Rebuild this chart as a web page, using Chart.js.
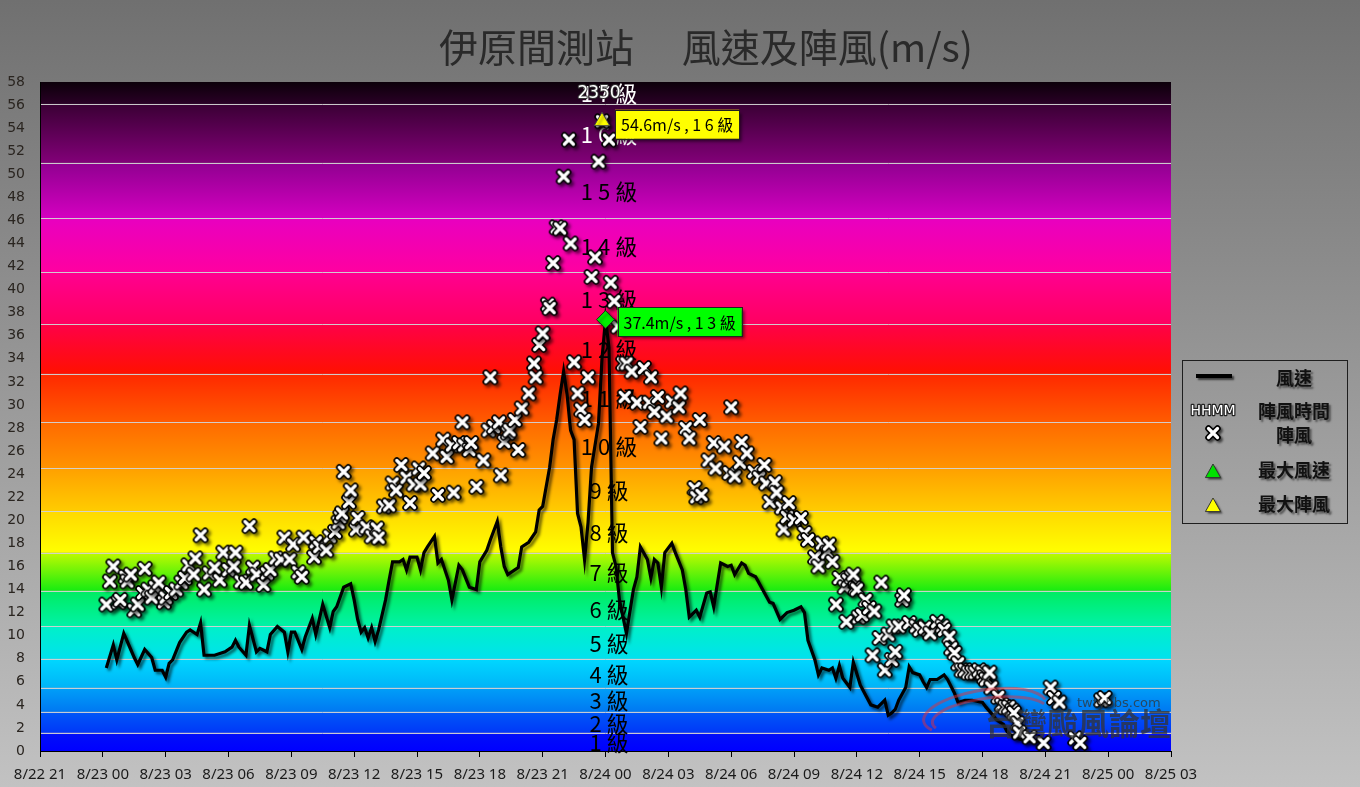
<!DOCTYPE html>
<html>
<head>
<meta charset="utf-8">
<script src="https://cdn.jsdelivr.net/npm/chart.js@4/dist/chart.umd.min.js"></script>
<style>
html, body { margin: 0; padding: 0; }
body { width: 1360px; height: 787px; overflow: hidden; background: linear-gradient(#707070, #c2c2c2); }
</style>
</head>
<body>
<canvas id="grafica" width="1360" height="787"></canvas>
<script>
// Eje X: minutos desde 8/23 00:00
const etiquetasX = ["8/22 21", "8/23 00", "8/23 03", "8/23 06", "8/23 09", "8/23 12", "8/23 15", "8/23 18", "8/23 21",
    "8/24 00", "8/24 03", "8/24 06", "8/24 09", "8/24 12", "8/24 15", "8/24 18", "8/24 21", "8/25 00", "8/25 03"];
const inicioEje = -180;
const pasoEje = 180;

// Escala de Beaufort (m/s) y nombres de nivel
const limitesEscala = [0, 1.6, 3.4, 5.5, 8.0, 10.8, 13.9, 17.2, 20.8, 24.5, 28.5, 32.7, 37.0, 41.5, 46.2, 51.0, 56.1, 58];
const nombresEscala = ["1 級", "2 級", "3 級", "4 級", "5 級", "6 級", "7 級", "8 級", "9 級",
    "1 0 級", "1 1 級", "1 2 級", "1 3 級", "1 4 級", "1 5 級", "1 6 級", "1 7 級"];

// 風速
const tiempoViento = [10, 30, 40, 60, 80, 90, 100, 120, 140, 150, 170, 180, 190, 200, 220, 240, 250, 270, 280, 290,
    320, 350, 370, 380, 390, 410, 420, 440, 450, 470, 480, 500, 520, 530, 540, 550, 570, 580, 600, 610,
    630, 650, 660, 670, 690, 710, 720, 730, 740, 750, 760, 770, 780, 790, 810, 820, 830, 850, 860, 870,
    880, 900, 910, 920, 930, 950, 960, 970, 990, 1000, 1020, 1030, 1050, 1070, 1080, 1100, 1110, 1130, 1140, 1150,
    1160, 1180, 1190, 1200, 1220, 1240, 1250, 1260, 1280, 1290, 1300, 1310, 1320, 1330, 1340, 1350, 1360, 1370, 1380, 1390,
    1400, 1420, 1430, 1440, 1450, 1460, 1470, 1480, 1500, 1520, 1530, 1540, 1560, 1570, 1580, 1590, 1600, 1610, 1630, 1640,
    1660, 1670, 1680, 1700, 1710, 1730, 1740, 1750, 1770, 1790, 1800, 1810, 1830, 1840, 1850, 1870, 1890, 1910, 1920, 1940,
    1960, 1980, 2000, 2010, 2020, 2040, 2050, 2060, 2080, 2090, 2100, 2110, 2120, 2140, 2150, 2170, 2200, 2220, 2240, 2250,
    2260, 2270, 2280, 2300, 2310, 2320, 2340, 2350, 2360, 2370, 2390, 2410, 2420, 2440, 2450, 2470, 2490, 2520, 2530, 2550,
    2560, 2580, 2590, 2600, 2620, 2630, 2650, 2660, 2680, 2690];
const viento = [7.2, 9.2, 7.9, 10.2, 8.8, 8.1, 7.5, 8.8, 8.1, 7.0, 7.0, 6.4, 7.6, 7.9, 9.4, 10.3, 10.5, 10.1, 11.1, 8.3,
    8.3, 8.6, 9.0, 9.6, 9.0, 8.3, 10.9, 8.6, 8.9, 8.6, 10.1, 10.8, 10.3, 8.6, 10.3, 10.3, 8.8, 9.9, 11.5, 10.1,
    12.7, 10.7, 12.1, 12.5, 14.2, 14.5, 13.1, 11.4, 10.3, 10.7, 9.8, 10.7, 9.5, 10.5, 13.1, 14.8, 16.4, 16.4, 16.6, 15.7,
    16.8, 16.8, 15.7, 17.2, 17.7, 18.6, 16.3, 16.6, 14.8, 13.1, 16.1, 15.7, 14.2, 14.0, 16.4, 17.4, 18.3, 19.9, 17.7, 16.0,
    15.3, 15.7, 15.9, 17.7, 18.1, 19.0, 20.9, 21.2, 24.6, 27.0, 28.7, 30.9, 32.9, 30.9, 27.8, 27.0, 20.6, 19.4, 16.6, 19.8,
    24.6, 28.4, 34.0, 37.4, 35.0, 17.2, 16.0, 13.1, 10.2, 14.0, 15.1, 17.7, 16.6, 15.0, 16.6, 16.3, 14.2, 17.2, 18.0, 17.2,
    15.7, 14.0, 11.6, 12.2, 11.6, 13.7, 13.8, 12.5, 16.3, 16.0, 16.1, 15.3, 16.3, 16.1, 15.4, 15.1, 14.0, 12.9, 12.8, 11.4,
    12.0, 12.2, 12.5, 12.0, 9.6, 7.9, 6.6, 7.2, 7.0, 7.2, 6.3, 7.4, 6.3, 5.5, 7.7, 5.7, 4.0, 3.8, 4.4, 3.1,
    3.3, 3.6, 4.4, 5.5, 7.3, 6.8, 6.6, 6.0, 5.5, 6.2, 6.2, 6.6, 6.2, 5.0, 4.2, 4.4, 4.4, 4.2, 3.8, 3.1,
    2.7, 2.3, 1.7, 1.4, 1.1, 1.0, 0.9, 0.8, 0.8, 0.9];

// 陣風
const tiempoRacha = [10, 20, 30, 45, 50, 65, 70, 80, 90, 100, 115, 120, 130, 140, 150, 160, 175, 180, 195, 210,
    225, 235, 245, 260, 265, 280, 290, 305, 320, 335, 345, 360, 375, 380, 395, 410, 420, 430, 440, 460,
    470, 480, 495, 510, 520, 535, 545, 560, 570, 575, 605, 610, 620, 640, 650, 665, 675, 680, 685, 690,
    705, 710, 725, 730, 755, 770, 785, 790, 805, 820, 830, 840, 855, 870, 880, 890, 905, 910, 920, 945,
    960, 975, 985, 1000, 1005, 1020, 1030, 1035, 1050, 1055, 1070, 1090, 1105, 1110, 1120, 1135, 1140, 1150, 1160, 1165,
    1180, 1190, 1200, 1220, 1235, 1240, 1250, 1260, 1275, 1280, 1290, 1300, 1310, 1320, 1335, 1340, 1350, 1360, 1370, 1380,
    1390, 1400, 1410, 1420, 1430, 1450, 1455, 1465, 1475, 1490, 1495, 1500, 1515, 1530, 1540, 1550, 1565, 1570, 1580, 1590,
    1600, 1615, 1630, 1650, 1655, 1670, 1680, 1695, 1700, 1710, 1715, 1735, 1750, 1755, 1780, 1795, 1800, 1810, 1825, 1830,
    1845, 1865, 1880, 1895, 1900, 1910, 1925, 1930, 1945, 1950, 1960, 1965, 1980, 2000, 2010, 2020, 2040, 2050, 2060, 2075,
    2080, 2090, 2100, 2110, 2125, 2130, 2135, 2145, 2150, 2155, 2160, 2165, 2175, 2185, 2195, 2205, 2210, 2225, 2230, 2240,
    2250, 2260, 2265, 2270, 2280, 2290, 2295, 2310, 2330, 2340, 2355, 2370, 2390, 2405, 2410, 2425, 2430, 2440, 2450, 2460,
    2470, 2480, 2490, 2500, 2510, 2520, 2525, 2530, 2540, 2545, 2565, 2575, 2585, 2595, 2605, 2610, 2620, 2625, 2655, 2695,
    2715, 2725, 2740, 2785, 2800, 2860, 2870];
const racha = [12.7, 14.7, 16.0, 12.9, 13.1, 15.1, 14.7, 15.3, 12.2, 12.7, 13.7, 15.8, 14.0, 13.3, 14.2, 14.6, 12.9, 13.3, 13.7, 14.0,
    14.6, 15.0, 16.1, 15.3, 16.7, 18.7, 14.0, 15.4, 15.9, 14.8, 17.2, 15.7, 16.0, 17.2, 14.7, 14.6, 19.5, 15.9, 15.3, 14.4,
    15.4, 15.7, 16.7, 16.6, 18.5, 16.6, 17.9, 15.5, 15.1, 18.5, 16.8, 18.1, 17.7, 17.4, 18.6, 19.0, 19.8, 20.3, 20.6, 24.2,
    21.6, 22.6, 19.2, 20.2, 19.4, 18.6, 19.3, 18.5, 21.2, 21.3, 23.2, 22.6, 24.8, 23.7, 21.5, 23.1, 24.5, 23.1, 24.1, 25.8,
    22.2, 27.0, 25.5, 26.5, 22.4, 26.7, 28.5, 26.5, 26.1, 26.7, 22.9, 25.2, 27.8, 32.4, 28.1, 28.5, 23.9, 26.8, 27.6, 27.8,
    28.7, 26.1, 29.7, 31.0, 33.6, 32.4, 35.2, 36.2, 38.7, 38.4, 42.3, 45.4, 45.3, 49.8, 53.0, 44.0, 33.7, 31.0, 29.6, 28.7,
    32.4, 41.1, 42.8, 51.1, 54.6, 53.0, 40.6, 39.0, 36.8, 33.6, 30.7, 33.6, 32.9, 30.2, 28.1, 33.2, 30.2, 32.4, 29.4, 30.7,
    27.1, 29.0, 30.3, 29.8, 31.0, 28.0, 27.1, 22.8, 22.0, 28.7, 22.2, 25.2, 26.7, 24.5, 26.4, 24.1, 29.8, 23.8, 25.0, 26.8,
    25.8, 24.2, 23.7, 24.8, 23.2, 21.6, 23.3, 22.4, 21.1, 19.2, 20.3, 21.5, 20.0, 20.2, 18.9, 18.3, 16.8, 16.0, 18.0, 17.2,
    17.9, 16.4, 12.7, 15.0, 14.2, 11.2, 14.8, 15.1, 15.3, 14.1, 14.0, 11.6, 11.8, 13.1, 12.4, 8.3, 12.1, 9.8, 14.6, 7.0,
    10.1, 7.9, 10.8, 8.6, 10.8, 13.1, 13.5, 11.1, 10.8, 10.5, 10.7, 10.2, 11.2, 10.8, 10.5, 9.9, 8.9, 8.5, 7.6, 7.0,
    7.0, 6.8, 6.8, 6.8, 7.0, 6.8, 6.4, 6.2, 6.8, 5.5, 4.7, 4.0, 3.8, 3.8, 3.5, 3.3, 2.4, 1.6, 1.2, 0.7,
    5.5, 4.6, 4.2, 1.1, 0.7, 4.4, 4.6];

// Máximos
const tiempoMaxViento = 1440;
const maxViento = 37.4;
const textoMaxViento = "37.4m/s , 1 3 級";
const tiempoMaxRacha = 1430;
const maxRacha = 54.6;
const textoMaxRacha = "54.6m/s , 1 6 級";
const horaMaxRacha = "2350";

// Colores de cada nivel (abajo, arriba)
const coloresEscala = [
    ["#0000ff", "#0010f8"], ["#0038f8", "#0058f8"], ["#0078f2", "#00a0f8"], ["#00b4f8", "#00d8ff"],
    ["#00e2ee", "#00f0c8"], ["#00f2a8", "#00ec60"], ["#18ec10", "#c0fa00"], ["#ffff00", "#ffd800"],
    ["#ffcc00", "#ffa000"], ["#ff9400", "#ff6a00"], ["#ff5c00", "#ff2800"], ["#ff1000", "#ff0048"],
    ["#ff0060", "#ff0090"], ["#ff00a0", "#e800c0"], ["#d400c0", "#900090"], ["#820078", "#3a0034"],
    ["#2a0026", "#0c000a"]
];

const fuenteCJK = '"Noto Sans CJK TC", "Noto Sans", sans-serif';

// Marca X blanca con borde negro para 陣風
function crearMarcaX() {
    const c = document.createElement("canvas");
    c.width = 18; c.height = 18;
    const g = c.getContext("2d");
    g.lineCap = "round";
    const dibujar = (color, ancho) => {
        g.strokeStyle = color; g.lineWidth = ancho;
        g.beginPath();
        g.moveTo(4.5, 4.5); g.lineTo(13.5, 13.5);
        g.moveTo(13.5, 4.5); g.lineTo(4.5, 13.5);
        g.stroke();
    };
    dibujar("#000", 6.5);
    dibujar("#fff", 3.2);
    return c;
}
const marcaX = crearMarcaX();

function textoContorno(ctx, texto, x, y, relleno, contorno, ancho) {
    ctx.lineJoin = "round";
    ctx.strokeStyle = contorno; ctx.lineWidth = ancho;
    ctx.strokeText(texto, x, y);
    ctx.fillStyle = relleno;
    ctx.fillText(texto, x, y);
}

// Fondo por niveles de viento
const pluginFondo = {
    id: "fondo",
    beforeDraw(chart) {
        const { ctx, chartArea: a, scales: { x, y } } = chart;
        ctx.save();
        for (let i = 0; i < limitesEscala.length - 1; i++) {
            const y0 = y.getPixelForValue(limitesEscala[i]);
            const y1 = y.getPixelForValue(limitesEscala[i + 1]);
            const g = ctx.createLinearGradient(0, y0, 0, y1);
            g.addColorStop(0, coloresEscala[i][0]);
            g.addColorStop(1, coloresEscala[i][1]);
            ctx.fillStyle = g;
            ctx.fillRect(a.left, y1, a.right - a.left, y0 - y1);
        }
        ctx.strokeStyle = "rgba(210,210,210,0.95)";
        ctx.lineWidth = 1;
        for (let i = 1; i < limitesEscala.length - 1; i++) {
            const yy = Math.round(y.getPixelForValue(limitesEscala[i])) + 0.5;
            ctx.beginPath(); ctx.moveTo(a.left, yy); ctx.lineTo(a.right, yy); ctx.stroke();
        }
        // nombres de nivel
        ctx.font = "22px " + fuenteCJK;
        ctx.textAlign = "center";
        ctx.textBaseline = "middle";
        const xc = x.getPixelForValue(1450);
        for (let i = 0; i < nombresEscala.length; i++) {
            const ym = y.getPixelForValue((limitesEscala[i] + limitesEscala[i + 1]) / 2);
            ctx.fillStyle = i >= 15 ? "#fff" : "#000";
            ctx.fillText(nombresEscala[i], xc, ym + 1);
        }
        ctx.restore();
    }
};

// Sombra para línea y marcas
const pluginSombra = {
    id: "sombra",
    beforeDatasetDraw(chart) {
        const c = chart.ctx;
        c.save();
        c.shadowColor = "rgba(0,0,0,0.6)";
        c.shadowOffsetX = 2.5;
        c.shadowOffsetY = 2.5;
        c.shadowBlur = 3;
    },
    afterDatasetDraw(chart) {
        chart.ctx.restore();
    }
};

function cajaEtiqueta(ctx, texto, x, y, color) {
    ctx.font = "16px " + fuenteCJK;
    const w = ctx.measureText(texto).width + 12;
    const h = 29;
    ctx.save();
    ctx.shadowColor = "rgba(0,0,0,0.55)";
    ctx.shadowOffsetX = 3; ctx.shadowOffsetY = 3; ctx.shadowBlur = 3;
    ctx.fillStyle = color;
    ctx.fillRect(x, y - h / 2, w, h);
    ctx.restore();
    ctx.strokeStyle = "#222"; ctx.lineWidth = 1;
    ctx.strokeRect(Math.round(x) + 0.5, Math.round(y - h / 2) + 0.5, Math.round(w), h);
    ctx.fillStyle = "#000";
    ctx.textAlign = "left"; ctx.textBaseline = "middle";
    ctx.fillText(texto, x + 6, y + 1);
}

function triangulo(ctx, x, y, r, color) {
    ctx.save();
    ctx.shadowColor = "rgba(0,0,0,0.6)";
    ctx.shadowOffsetX = 2; ctx.shadowOffsetY = 2; ctx.shadowBlur = 2;
    ctx.beginPath();
    ctx.moveTo(x, y - r); ctx.lineTo(x + r * 0.95, y + r * 0.7); ctx.lineTo(x - r * 0.95, y + r * 0.7);
    ctx.closePath();
    ctx.fillStyle = color; ctx.fill();
    ctx.restore();
    ctx.strokeStyle = "#333"; ctx.lineWidth = 1; ctx.stroke();
}

function dibujarLeyenda(ctx) {
    const x0 = 1182, y0 = 360, w = 165, h = 163;
    ctx.save();
    ctx.strokeStyle = "#1e1e1e"; ctx.lineWidth = 1;
    ctx.strokeRect(x0 + 0.5, y0 + 0.5, w, h);
    // línea
    ctx.save();
    ctx.shadowColor = "rgba(0,0,0,0.6)"; ctx.shadowOffsetX = 2; ctx.shadowOffsetY = 2; ctx.shadowBlur = 2;
    ctx.strokeStyle = "#000"; ctx.lineWidth = 4;
    ctx.beginPath(); ctx.moveTo(1196, 376); ctx.lineTo(1232, 376); ctx.stroke();
    ctx.drawImage(marcaX, 1204, 424);
    ctx.restore();
    ctx.font = "14px 'DejaVu Sans', sans-serif";
    ctx.textAlign = "center"; ctx.textBaseline = "middle";
    textoContorno(ctx, "HHMM", 1213, 411, "#fff", "#222", 2.5);
    triangulo(ctx, 1213, 472, 8, "#00e000");
    triangulo(ctx, 1213, 506, 8, "#ffff00");
    // textos
    ctx.shadowColor = "rgba(0,0,0,0.5)"; ctx.shadowOffsetX = 2; ctx.shadowOffsetY = 2; ctx.shadowBlur = 2;
    ctx.fillStyle = "#111";
    ctx.font = "bold 18px " + fuenteCJK;
    ctx.fillText("風速", 1294, 378);
    ctx.fillText("陣風時間", 1294, 411);
    ctx.fillText("陣風", 1294, 435);
    ctx.fillText("最大風速", 1294, 470);
    ctx.fillText("最大陣風", 1294, 504);
    ctx.restore();
}

const pluginTextos = {
    id: "textos",
    afterDraw(chart) {
        const { ctx, scales: { x, y } } = chart;
        ctx.save();
        // título
        ctx.font = "39px " + fuenteCJK;
        ctx.textAlign = "center"; ctx.textBaseline = "middle";
        ctx.fillStyle = "#2a2a2a";
        ctx.fillText("伊原間測站　 風速及陣風(m/s)", 706, 47);

        // etiquetas de máximos
        const px1 = x.getPixelForValue(tiempoMaxRacha), py1 = y.getPixelForValue(maxRacha);
        cajaEtiqueta(ctx, textoMaxRacha, px1 + 13, py1 + 3, "#ffff00");
        const px2 = x.getPixelForValue(tiempoMaxViento), py2 = y.getPixelForValue(maxViento);
        cajaEtiqueta(ctx, textoMaxViento, px2 + 12, py2 + 2, "#00ff00");

        // hora del máximo 陣風
        ctx.font = "17px 'DejaVu Sans', sans-serif";
        ctx.textAlign = "center"; ctx.textBaseline = "middle";
        textoContorno(ctx, horaMaxRacha, px1 - 3, y.getPixelForValue(57.0), "#fff", "#333", 2);

        // marca de agua
        ctx.save();
        ctx.globalAlpha = 0.5;
        ctx.strokeStyle = "#e0303c"; ctx.lineWidth = 3;
        ctx.beginPath(); ctx.ellipse(985, 712, 62, 22, -0.15, Math.PI * 0.85, Math.PI * 1.95); ctx.stroke();
        ctx.beginPath(); ctx.ellipse(990, 716, 58, 18, -0.12, Math.PI * 0.9, Math.PI * 1.9); ctx.stroke();
        ctx.restore();
        ctx.globalAlpha = 0.75;
        ctx.fillStyle = "#333";
        ctx.font = "bold 31px " + fuenteCJK;
        ctx.textAlign = "left";
        ctx.fillText("台灣颱風論壇", 985, 723);
        ctx.font = "13px 'DejaVu Sans', sans-serif";
        ctx.fillText("twtybbs.com", 1077, 704);
        ctx.restore();

        dibujarLeyenda(ctx);
    }
};

const ctx = document.getElementById("grafica").getContext("2d");
new Chart(ctx, {
    data: {
        datasets: [
            {
                type: "scatter", label: "最大陣風",
                data: [{ x: tiempoMaxRacha, y: maxRacha }],
                pointStyle: "triangle", pointRadius: 9, backgroundColor: "#ffff00", borderColor: "#444", borderWidth: 1, order: 0
            },
            {
                type: "scatter", label: "最大風速",
                data: [{ x: tiempoMaxViento, y: maxViento }],
                pointStyle: "rectRot", pointRadius: 9, backgroundColor: "#00ee00", borderColor: "#222", borderWidth: 1, order: 1
            },
            {
                type: "scatter", label: "陣風",
                data: tiempoRacha.map((t, i) => ({ x: t, y: racha[i] })),
                pointStyle: marcaX, order: 2
            },
            {
                type: "line", label: "風速",
                data: tiempoViento.map((t, i) => ({ x: t, y: viento[i] })),
                borderColor: "#000", borderWidth: 3.2, pointRadius: 0, tension: 0, order: 3
            }
        ]
    },
    options: {
        responsive: false,
        animation: false,
        layout: { padding: { top: 82, right: 189, left: 0, bottom: 0 } },
        plugins: { legend: { display: false }, tooltip: { enabled: false } },
        scales: {
            x: {
                type: "linear",
                min: inicioEje,
                max: inicioEje + pasoEje * (etiquetasX.length - 1),
                afterBuildTicks: s => { s.ticks = etiquetasX.map((_, i) => ({ value: inicioEje + i * pasoEje })); },
                afterFit: s => { s.height = 36; },
                ticks: {
                    callback: (v, i) => etiquetasX[i],
                    color: "#1a1a1a", font: { family: "Noto Sans", size: 15 },
                    padding: 9, autoSkip: false, maxRotation: 0
                },
                grid: { drawOnChartArea: false, color: "#000", tickLength: 6 },
                border: { color: "#000", width: 1 }
            },
            y: {
                min: 0, max: 58,
                afterFit: s => { s.width = 40; },
                ticks: { stepSize: 2, color: "#2a2520", font: { family: "DejaVu Sans", size: 14 }, padding: 15 },
                grid: { drawOnChartArea: false, drawTicks: false },
                border: { color: "#000", width: 1 }
            }
        }
    },
    plugins: [pluginFondo, pluginSombra, pluginTextos]
});
</script>
</body>
</html>
